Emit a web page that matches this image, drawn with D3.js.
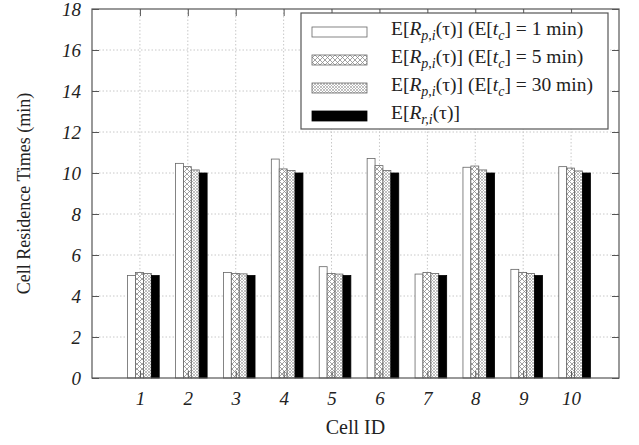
<!DOCTYPE html>
<html>
<head>
<meta charset="utf-8">
<script src="https://cdn.jsdelivr.net/npm/d3@7"></script>
<style>
body { margin: 0; background: #fff; }
svg text { font-family: "Liberation Serif", "Times New Roman", serif; fill: #222; }
.grid line { stroke: #c8c8c8; stroke-dasharray: 1.5,2; }
</style>
</head>
<body>
<div id="chart"></div>
<script>
const cells = [1, 2, 3, 4, 5, 6, 7, 8, 9, 10];
// E[Rp,i] with E[tc] = 1, 5, 30 min, and E[Rr,i]
const tc1 = [5.0, 10.47, 5.15, 10.68, 5.43, 10.71, 5.07, 10.28, 5.3, 10.31];
const tc5 = [5.15, 10.31, 5.1, 10.2, 5.1, 10.36, 5.15, 10.34, 5.15, 10.24];
const tc30 = [5.1, 10.15, 5.08, 10.12, 5.07, 10.12, 5.1, 10.15, 5.1, 10.1];
const real = [5.0, 10.0, 5.0, 10.0, 5.0, 10.0, 5.0, 10.0, 5.0, 10.0];
const yTicks = [0, 2, 4, 6, 8, 10, 12, 14, 16, 18];

const series = [
    {values: tc1, fill: "#fff", tc: "1"},
    {values: tc5, fill: "url(#pat5)", tc: "5"},
    {values: tc30, fill: "url(#pat30)", tc: "30"},
    {values: real, fill: "#000", tc: null}
];

const W = 639, H = 445;
const margin = {top: 9, right: 20, bottom: 67, left: 92};
const width = W - margin.left - margin.right,
    height = H - margin.top - margin.bottom;

const svg = d3.select("#chart").append("svg")
    .attr("width", W)
    .attr("height", H);

const defs = svg.append("defs");
const p5 = defs.append("pattern").attr("id", "pat5")
    .attr("patternUnits", "userSpaceOnUse").attr("width", 5).attr("height", 5);
p5.append("rect").attr("width", 5).attr("height", 5).attr("fill", "#fff");
p5.append("path").attr("d", "M0,0L5,5M5,0L0,5")
    .attr("stroke", "#8a8a8a").attr("stroke-width", 0.8);
const p30 = defs.append("pattern").attr("id", "pat30")
    .attr("patternUnits", "userSpaceOnUse").attr("width", 3).attr("height", 3);
p30.append("rect").attr("width", 3).attr("height", 3).attr("fill", "#fff");
p30.append("path").attr("d", "M0,0L3,3M3,0L0,3")
    .attr("stroke", "#a5a5a5").attr("stroke-width", 0.7);

const g = svg.append("g")
    .attr("transform", "translate(" + margin.left + "," + margin.top + ")");

const x = d3.scaleLinear().domain([0, 11]).range([0, width]);
const y = d3.scaleLinear().domain([0, 18]).range([height, 0]);

// grid
g.append("g").attr("class", "grid")
    .selectAll("line").data(yTicks.filter(d => d > 0 && d < 18)).enter()
    .append("line")
    .attr("x1", 0).attr("x2", width)
    .attr("y1", d => y(d)).attr("y2", d => y(d));
g.append("g").attr("class", "grid")
    .selectAll("line").data(cells).enter()
    .append("line")
    .attr("x1", d => x(d)).attr("x2", d => x(d))
    .attr("y1", 0).attr("y2", height);

// bars
const barW = 0.165, barStart = -0.257;
series.forEach(function(s, k) {
    g.selectAll(".bar" + k)
        .data(s.values)
        .enter()
        .append("rect")
        .attr("class", "bar" + k)
        .attr("x", (d, i) => x(cells[i] + barStart + k * barW))
        .attr("width", x(barW) - x(0))
        .attr("y", d => y(d))
        .attr("height", d => height - y(d))
        .attr("fill", s.fill)
        .attr("stroke", k === 3 ? "#000" : "#666")
        .attr("stroke-width", 0.8);
});

// axes with mirrored ticks
const tickLen = 7;
const serif = "'Liberation Serif', 'Times New Roman', serif";
g.append("g")
    .attr("transform", "translate(0," + height + ")")
    .call(d3.axisBottom(x).tickValues(cells).tickSize(-tickLen).tickPadding(14).tickFormat(d3.format("d")))
    .attr("font-family", serif).attr("font-size", 19)
    .call(a => a.select(".domain").remove())
    .selectAll("text").attr("font-style", "italic");
g.append("g")
    .call(d3.axisTop(x).tickValues(cells).tickSize(-tickLen).tickFormat(""))
    .call(a => a.select(".domain").remove());
g.append("g")
    .call(d3.axisLeft(y).tickValues(yTicks).tickSize(-tickLen).tickPadding(11))
    .attr("font-family", serif).attr("font-size", 19)
    .call(a => a.select(".domain").remove())
    .selectAll("text").attr("font-style", "italic");
g.append("g")
    .attr("transform", "translate(" + width + ",0)")
    .call(d3.axisRight(y).tickValues(yTicks).tickSize(-tickLen).tickFormat(""))
    .call(a => a.select(".domain").remove());
g.selectAll(".tick line").attr("stroke", "#555");

g.append("rect")
    .attr("width", width).attr("height", height)
    .attr("fill", "none").attr("stroke", "#555").attr("stroke-width", 1.2);

// axis labels
svg.append("text")
    .attr("x", margin.left + width / 2).attr("y", 434)
    .attr("text-anchor", "middle").style("font-size", "20px")
    .text("Cell ID");
svg.append("text")
    .attr("transform", "translate(30," + (margin.top + height / 2) + ") rotate(-90)")
    .attr("text-anchor", "middle").style("font-size", "18px")
    .text("Cell Residence Times (min)");

// legend
const leg = svg.append("g");
leg.append("rect")
    .attr("x", 301).attr("y", 13).attr("width", 307).attr("height", 116)
    .attr("fill", "#fff").attr("stroke", "#555").attr("stroke-width", 1.2);
series.forEach(function(s, k) {
    const cy = 32 + k * 28;
    leg.append("rect")
        .attr("x", 312).attr("y", cy - 5).attr("width", 55).attr("height", 10)
        .attr("fill", s.fill)
        .attr("stroke", k === 3 ? "#000" : "#666").attr("stroke-width", 0.8);
    const t = leg.append("text").attr("x", 391).attr("y", cy + 3).style("font-size", "19.5px");
    t.append("tspan").text("E[");
    t.append("tspan").style("font-style", "italic").text("R");
    t.append("tspan").style("font-style", "italic").style("font-size", "14px").attr("dy", 5)
        .text(k === 3 ? "r,i" : "p,i");
    t.append("tspan").attr("dy", -5).text("(τ)]");
    if (s.tc) {
        t.append("tspan").text(" (E[");
        t.append("tspan").style("font-style", "italic").text("t");
        t.append("tspan").style("font-style", "italic").style("font-size", "14px").attr("dy", 5).text("c");
        t.append("tspan").attr("dy", -5).text("] = " + s.tc + " min)");
    }
});
</script>
</body>
</html>
